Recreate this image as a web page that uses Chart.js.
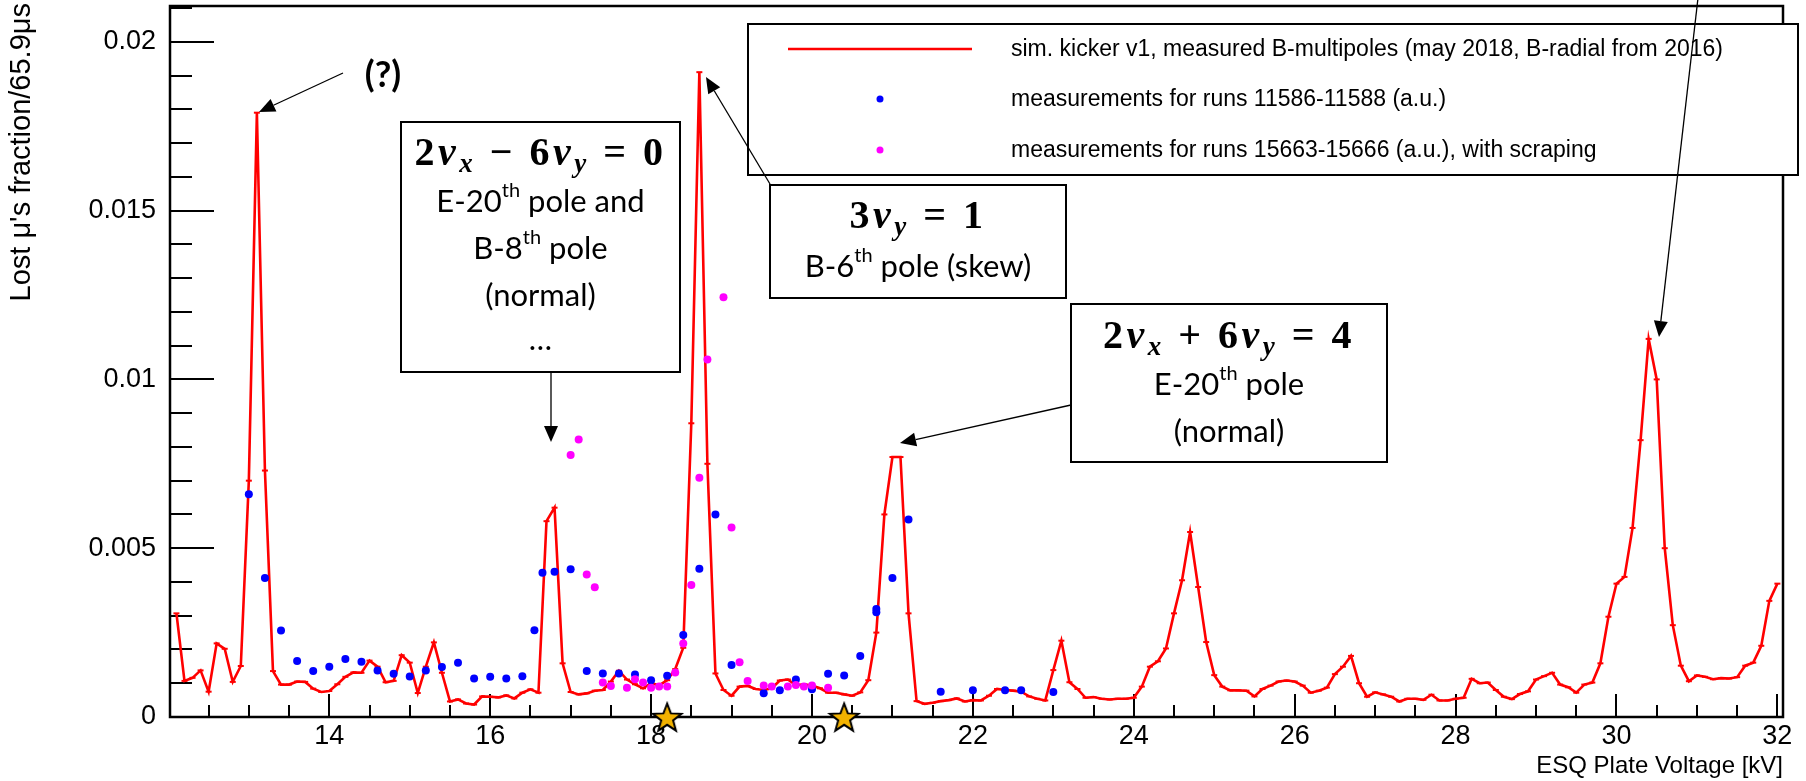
<!DOCTYPE html>
<html>
<head>
<meta charset="utf-8">
<script src="https://cdn.jsdelivr.net/npm/chart.js@4.4.0/dist/chart.umd.min.js"></script>
<style>
  html, body { margin: 0; padding: 0; background: #fff; }
  #wrap { width: 1806px; height: 781px; }
</style>
</head>
<body>
<div id="wrap"><canvas id="chart" width="1806" height="781"></canvas></div>
<script>
// simulation (red line), one point every 0.1 kV
const simVoltage = [
  12.1, 12.2, 12.3, 12.4, 12.5, 12.6, 12.7, 12.8, 12.9, 13.0,
  13.1, 13.2, 13.3, 13.4, 13.5, 13.6, 13.7, 13.8, 13.9, 14.0,
  14.1, 14.2, 14.3, 14.4, 14.5, 14.6, 14.7, 14.8, 14.9, 15.0,
  15.1, 15.2, 15.3, 15.4, 15.5, 15.6, 15.7, 15.8, 15.9, 16.0,
  16.1, 16.2, 16.3, 16.4, 16.5, 16.6, 16.7, 16.8, 16.9, 17.0,
  17.1, 17.2, 17.3, 17.4, 17.5, 17.6, 17.7, 17.8, 17.9, 18.0,
  18.1, 18.2, 18.3, 18.4, 18.5, 18.6, 18.7, 18.8, 18.9, 19.0,
  19.1, 19.2, 19.3, 19.4, 19.5, 19.6, 19.7, 19.8, 19.9, 20.0,
  20.1, 20.2, 20.3, 20.4, 20.5, 20.6, 20.7, 20.8, 20.9, 21.0,
  21.1, 21.2, 21.3, 21.4, 21.5, 21.6, 21.7, 21.8, 21.9, 22.0,
  22.1, 22.2, 22.3, 22.4, 22.5, 22.6, 22.7, 22.8, 22.9, 23.0,
  23.1, 23.2, 23.3, 23.4, 23.5, 23.6, 23.7, 23.8, 23.9, 24.0,
  24.1, 24.2, 24.3, 24.4, 24.5, 24.6, 24.7, 24.8, 24.9, 25.0,
  25.1, 25.2, 25.3, 25.4, 25.5, 25.6, 25.7, 25.8, 25.9, 26.0,
  26.1, 26.2, 26.3, 26.4, 26.5, 26.6, 26.7, 26.8, 26.9, 27.0,
  27.1, 27.2, 27.3, 27.4, 27.5, 27.6, 27.7, 27.8, 27.9, 28.0,
  28.1, 28.2, 28.3, 28.4, 28.5, 28.6, 28.7, 28.8, 28.9, 29.0,
  29.1, 29.2, 29.3, 29.4, 29.5, 29.6, 29.7, 29.8, 29.9, 30.0,
  30.1, 30.2, 30.3, 30.4, 30.5, 30.6, 30.7, 30.8, 30.9, 31.0,
  31.1, 31.2, 31.3, 31.4, 31.5, 31.6, 31.7, 31.8, 31.9, 32.0
];
const simLoss = [
  0.00307, 0.00107, 0.00116, 0.00138, 0.00075, 0.00218, 0.00202, 0.00104, 0.00151, 0.0070,
  0.0179, 0.0073, 0.00136, 0.00096, 0.00096, 0.00105, 0.00104, 0.00084, 0.00074, 0.00077,
  0.00097, 0.00119, 0.00132, 0.00131, 0.00167, 0.00149, 0.00103, 0.00107, 0.00183, 0.00161,
  0.00071, 0.00149, 0.00221, 0.00131, 0.00046, 0.00052, 0.00040, 0.00037, 0.00061, 0.00060,
  0.00058, 0.00064, 0.00055, 0.00072, 0.00082, 0.00072, 0.0058, 0.0062, 0.00159, 0.00074,
  0.00067, 0.00070, 0.00078, 0.00080, 0.00105, 0.00137, 0.00111, 0.00097, 0.00085, 0.00100,
  0.00094, 0.00109, 0.00142, 0.00205, 0.0087, 0.0191, 0.0075, 0.00129, 0.00080, 0.00063,
  0.00090, 0.00092, 0.00083, 0.00080, 0.00085, 0.00108, 0.00111, 0.00094, 0.00097, 0.00093,
  0.00085, 0.00072, 0.00072, 0.00067, 0.00063, 0.00073, 0.00109, 0.00250, 0.0060, 0.0077,
  0.0077, 0.00307, 0.00047, 0.00039, 0.00042, 0.00047, 0.00050, 0.00055, 0.00046, 0.00050,
  0.00049, 0.00063, 0.00083, 0.00080, 0.00078, 0.00075, 0.00061, 0.00054, 0.00049, 0.00139,
  0.00226, 0.00103, 0.00083, 0.00057, 0.00059, 0.00054, 0.00052, 0.00054, 0.00054, 0.00057,
  0.00090, 0.00149, 0.00165, 0.00203, 0.00307, 0.00405, 0.00548, 0.00385, 0.00222, 0.00124,
  0.00090, 0.00079, 0.00079, 0.00078, 0.00061, 0.00083, 0.00093, 0.00105, 0.00108, 0.00105,
  0.00093, 0.00072, 0.00078, 0.00087, 0.00127, 0.00149, 0.00181, 0.00100, 0.00060, 0.00073,
  0.00067, 0.00060, 0.00046, 0.00054, 0.00054, 0.00051, 0.00066, 0.00049, 0.00049, 0.00054,
  0.00057, 0.00113, 0.00100, 0.00102, 0.00080, 0.00060, 0.00053, 0.00068, 0.00076, 0.00111,
  0.00121, 0.00131, 0.00096, 0.00088, 0.00072, 0.00096, 0.00102, 0.00159, 0.00297, 0.00395,
  0.00415, 0.00560, 0.0082, 0.0112, 0.0100, 0.0050, 0.00272, 0.00152, 0.00106, 0.00123,
  0.00119, 0.00112, 0.00115, 0.00114, 0.00118, 0.00152, 0.00161, 0.00211, 0.00344, 0.00395
];

// measurements, runs 11586-11588 (blue)
const runsAVoltage = [
  13.0, 13.2, 13.4, 13.6, 13.8, 14.0, 14.2, 14.4, 14.6, 14.8,
  15.0, 15.2, 15.4, 15.6, 15.8, 16.0, 16.2, 16.4, 16.55, 16.65,
  16.8, 17.0, 17.2, 17.4, 17.6, 17.8, 18.0, 18.2, 18.4, 18.6,
  18.8, 19.0, 19.4, 19.6, 19.8, 20.0, 20.2, 20.4, 20.6, 20.8,
  20.8, 21.0, 21.2, 21.6, 22.0, 22.4, 22.6, 23.0
];
const runsALoss = [
  0.0066, 0.00412, 0.00256, 0.00166, 0.00136, 0.00149, 0.00172, 0.00164, 0.00138, 0.00128,
  0.0012, 0.00138, 0.00148, 0.00161, 0.00114, 0.00119, 0.00114, 0.00121, 0.00257, 0.00427,
  0.0043, 0.00438, 0.00136, 0.00129, 0.00129, 0.00126, 0.00109, 0.00122, 0.00243, 0.00439,
  0.0060, 0.00154, 0.0007, 0.00079, 0.00111, 0.00082, 0.00128, 0.00123, 0.00181, 0.0032,
  0.0031, 0.00412, 0.00585, 0.00075, 0.00079, 0.00079, 0.00079, 0.00074
];

// measurements, runs 15663-15666 with scraping (magenta)
const runsBVoltage = [
  17.0, 17.1, 17.2, 17.3, 17.4, 17.5, 17.7, 17.8, 17.9, 18.0,
  18.1, 18.2, 18.3, 18.4, 18.5, 18.6, 18.7, 18.9, 19.0, 19.1,
  19.2, 19.4, 19.5, 19.7, 19.8, 19.9, 20.0, 20.2
];
const runsBLoss = [
  0.00776, 0.00822, 0.00422, 0.00384, 0.00102, 0.00092, 0.00087, 0.00112, 0.00102, 0.00087,
  0.0009, 0.0009, 0.00132, 0.00218, 0.00391, 0.00709, 0.01059, 0.01243, 0.00561, 0.00162,
  0.00107, 0.00093, 0.0009, 0.0009, 0.00095, 0.0009, 0.00093, 0.00087
];

// working points (stars on the axis)
const starVoltage = [18.2, 20.4];
const starLoss = [0, 0];

const seriesLabels = [
  'sim. kicker v1, measured B-multipoles (may 2018, B-radial from 2016)',
  'measurements for runs 11586-11588 (a.u.)',
  'measurements for runs 15663-15666 (a.u.), with scraping'
];
const xTitle = 'ESQ Plate Voltage [kV]';
const yTitle = 'Lost \u03BC\'s fraction/65.9\u03BCs';

const X_MIN = 12.02;
const X_MAX = 32.07;
const Y_MAX = 0.02106;

const SANS = '"Liberation Sans", Arial, sans-serif';
const SERIF = '"Liberation Serif", "DejaVu Serif", serif';
const BOXF = 'Lato, "Open Sans", sans-serif';

const toPoints = (xs, ys) => xs.map((x, i) => ({ x, y: ys[i] }));

const makeStar = (r) => {
  const c = document.createElement('canvas');
  const s = Math.ceil(r * 2 + 4);
  c.width = c.height = s;
  const g = c.getContext('2d');
  g.beginPath();
  for (let i = 0; i < 10; i++) {
    const rad = i % 2 ? r * 0.42 : r;
    const ang = -Math.PI / 2 + i * Math.PI / 5;
    g.lineTo(s / 2 + rad * Math.cos(ang), s / 2 + 1.5 + rad * Math.sin(ang));
  }
  g.closePath();
  g.fillStyle = '#f2b200';
  g.fill();
  g.lineWidth = 2;
  g.strokeStyle = '#000';
  g.stroke();
  return c;
};

// annotation boxes (pixel layout)
const boxes = [
  { rect: [401, 122, 279, 250], lines: [
    { y: 155, math: true, tokens: ['2', 'ν', '_x', ' − 6', 'ν', '_y', ' = 0'] },
    { y: 202, tokens: ['E-20', '^th', ' pole and'] },
    { y: 249, tokens: ['B-8', '^th', ' pole'] },
    { y: 296, tokens: ['(normal)'] },
    { y: 340, tokens: ['…'] }
  ] },
  { rect: [770, 185, 296, 113], lines: [
    { y: 218, math: true, tokens: ['3', 'ν', '_y', ' = 1'] },
    { y: 267, tokens: ['B-6', '^th', ' pole (skew)'] }
  ] },
  { rect: [1071, 304, 316, 158], lines: [
    { y: 338, math: true, tokens: ['2', 'ν', '_x', ' + 6', 'ν', '_y', ' = 4'] },
    { y: 385, tokens: ['E-20', '^th', ' pole'] },
    { y: 432, tokens: ['(normal)'] }
  ] }
];
const arrows = [
  [343, 73, 259, 112],
  [551, 372, 551, 442],
  [770, 184, 706, 77],
  [1071, 405, 900, 443],
  [1698, -2, 1659, 337]
];

const toRuns = (tokens, math) => {
  const size = math ? 40 : 31;
  const fam = math ? SERIF : BOXF;
  return tokens.map((tok) => {
    if (tok.startsWith('_')) return { t: tok.slice(1), f: `italic bold 27px ${fam}`, dy: 10 };
    if (tok.startsWith('^')) return { t: tok.slice(1), f: `20px ${fam}`, dy: -11 };
    if (math && tok === 'ν') return { t: tok, f: `italic bold ${size}px ${fam}`, dy: 0 };
    return { t: tok, f: `${math ? 'bold ' : ''}${size}px ${fam}`, dy: 0 };
  });
};

const drawRuns = (ctx, runs, cx, cy, spacing) => {
  ctx.letterSpacing = spacing + 'px';
  let total = 0;
  runs.forEach((r) => { ctx.font = r.f; r.w = ctx.measureText(r.t).width; total += r.w; });
  let x = cx - total / 2;
  runs.forEach((r) => { ctx.font = r.f; ctx.fillText(r.t, x, cy + r.dy); x += r.w; });
  ctx.letterSpacing = '0px';
};

const drawArrow = (ctx, x1, y1, x2, y2) => {
  const ang = Math.atan2(y2 - y1, x2 - x1);
  const len = 16, half = 7;
  const bx = x2 - len * Math.cos(ang), by = y2 - len * Math.sin(ang);
  ctx.beginPath();
  ctx.moveTo(x1, y1);
  ctx.lineTo(bx, by);
  ctx.stroke();
  ctx.beginPath();
  ctx.moveTo(x2, y2);
  ctx.lineTo(bx + half * Math.sin(ang), by - half * Math.cos(ang));
  ctx.lineTo(bx - half * Math.sin(ang), by + half * Math.cos(ang));
  ctx.closePath();
  ctx.fill();
};

// ROOT-style frame with inward ticks
const frameTicks = {
  id: 'frameTicks',
  beforeDatasetsDraw(chart) {
    const { ctx, chartArea: a, scales: { x, y } } = chart;
    ctx.save();
    ctx.strokeStyle = '#000';
    ctx.lineWidth = 2;
    ctx.beginPath();
    for (let v = 12.5; v <= X_MAX; v += 0.5) {
      const px = Math.round(x.getPixelForValue(v));
      const len = v % 2 === 0 ? 23 : 12;
      ctx.moveTo(px, a.bottom);
      ctx.lineTo(px, a.bottom - len);
    }
    for (let i = 0; i <= 21; i++) {
      const py = Math.round(y.getPixelForValue(i * 0.001));
      const len = i % 5 === 0 ? 44 : 22;
      ctx.moveTo(a.left, py);
      ctx.lineTo(a.left + len, py);
    }
    ctx.stroke();
    ctx.lineWidth = 2.5;
    ctx.strokeRect(a.left, a.top, a.right - a.left, a.bottom - a.top);
    ctx.restore();
  }
};

const notes = {
  id: 'notes',
  afterDraw(chart) {
    const { ctx, chartArea: a } = chart;
    ctx.save();
    ctx.fillStyle = '#000';

    // axis titles
    ctx.textBaseline = 'middle';
    ctx.textAlign = 'right';
    ctx.font = `24px ${SANS}`;
    ctx.fillText(xTitle, a.right, 766);
    ctx.save();
    ctx.font = `29px ${SANS}`;
    ctx.translate(22, 3);
    ctx.rotate(-Math.PI / 2);
    ctx.fillText(yTitle, 0, 0);
    ctx.restore();

    // legend
    ctx.fillStyle = '#fff';
    ctx.fillRect(748, 24, 1050, 151);
    ctx.strokeStyle = '#000';
    ctx.lineWidth = 2;
    ctx.strokeRect(748, 24, 1050, 151);
    const rows = [49, 99, 150];
    const ds = chart.data.datasets;
    ctx.strokeStyle = ds[0].borderColor;
    ctx.lineWidth = 2.6;
    ctx.beginPath();
    ctx.moveTo(788, rows[0]);
    ctx.lineTo(972, rows[0]);
    ctx.stroke();
    [1, 2].forEach((k) => {
      ctx.fillStyle = ds[k].pointBackgroundColor;
      ctx.beginPath();
      ctx.arc(880, rows[k], 3.5, 0, Math.PI * 2);
      ctx.fill();
    });
    ctx.fillStyle = '#000';
    ctx.textAlign = 'left';
    ctx.font = `23px ${SANS}`;
    seriesLabels.forEach((t, k) => ctx.fillText(t, 1011, rows[k] + 1));

    // boxes
    boxes.forEach((b) => {
      const [bx, by, bw, bh] = b.rect;
      ctx.fillStyle = '#fff';
      ctx.fillRect(bx, by, bw, bh);
      ctx.strokeStyle = '#000';
      ctx.lineWidth = 2;
      ctx.strokeRect(bx, by, bw, bh);
      ctx.fillStyle = '#000';
      b.lines.forEach((ln) => drawRuns(ctx, toRuns(ln.tokens, ln.math), bx + bw / 2, ln.y, ln.math ? 3.5 : 0));
    });

    ctx.font = `bold 36px ${BOXF}`;
    ctx.textAlign = 'center';
    ctx.fillText('(?)', 383, 75);

    ctx.strokeStyle = '#000';
    ctx.fillStyle = '#000';
    ctx.lineWidth = 1.3;
    arrows.forEach((p) => drawArrow(ctx, ...p));
    ctx.restore();
  }
};

// drop Chart.js label-overflow padding so the plot frame sits where ROOT put it
const noOverflow = (s) => {
  s.paddingTop = 0;
  s.paddingBottom = 0;
  s.paddingLeft = 0;
  s.paddingRight = 0;
};

new Chart(document.getElementById('chart'), {
  type: 'scatter',
  data: {
    datasets: [
      {
        label: seriesLabels[0],
        data: toPoints(simVoltage, simLoss),
        showLine: true,
        borderColor: '#ff0000',
        backgroundColor: '#ff0000',
        borderWidth: 2.6,
        pointStyle: 'line',
        pointRadius: 3,
        pointBorderWidth: 2,
        pointBorderColor: '#ff0000',
        tension: 0,
        order: 3
      },
      {
        label: seriesLabels[1],
        data: toPoints(runsAVoltage, runsALoss),
        pointRadius: 4,
        pointBackgroundColor: '#0000ff',
        pointBorderWidth: 0,
        order: 2
      },
      {
        label: seriesLabels[2],
        data: toPoints(runsBVoltage, runsBLoss),
        pointRadius: 4,
        pointBackgroundColor: '#ff00ff',
        pointBorderWidth: 0,
        order: 1
      },
      {
        label: 'working points',
        data: toPoints(starVoltage, starLoss),
        pointStyle: makeStar(15),
        clip: false,
        order: 0
      }
    ]
  },
  options: {
    responsive: false,
    animation: false,
    devicePixelRatio: 1,
    layout: { padding: { top: 5, right: 23, left: 0, bottom: 0 } },
    plugins: { legend: { display: false }, tooltip: { enabled: false } },
    scales: {
      x: {
        type: 'linear',
        min: X_MIN,
        max: X_MAX,
        grid: { display: false, drawTicks: false },
        border: { display: false },
        ticks: {
          stepSize: 2,
          includeBounds: false,
          autoSkip: false,
          maxRotation: 0,
          padding: 3,
          color: '#000',
          font: { family: SANS, size: 27 }
        },
        afterFit: (s) => { s.height = 64; noOverflow(s); }
      },
      y: {
        min: 0,
        max: Y_MAX,
        grid: { display: false, drawTicks: false },
        border: { display: false },
        ticks: {
          stepSize: 0.005,
          includeBounds: false,
          autoSkip: false,
          padding: 14,
          color: '#000',
          font: { family: SANS, size: 27 },
          callback: (v) => String(+v.toFixed(3))
        },
        afterFit: (s) => { s.width = 170; noOverflow(s); }
      }
    }
  },
  plugins: [frameTicks, notes]
});
</script>
</body>
</html>
